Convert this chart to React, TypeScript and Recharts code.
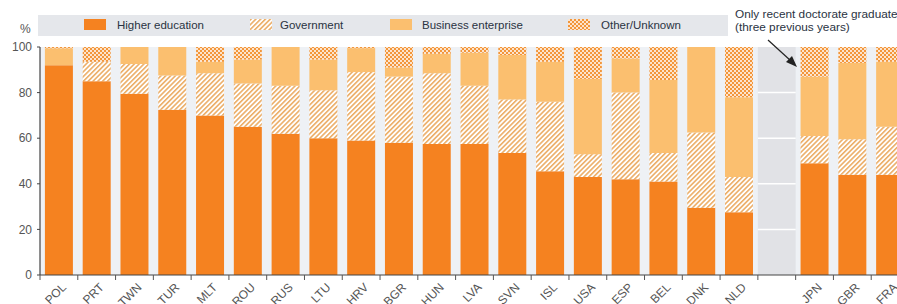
import React from "react";
import { BarChart, Bar, XAxis, YAxis, CartesianGrid, ReferenceArea } from "recharts";

const categories = ["POL","PRT","TWN","TUR","MLT","ROU","RUS","LTU","HRV","BGR","HUN","LVA","SVN","ISL","USA","ESP","BEL","DNK","NLD"," ","JPN","GBR","FRA"];
const higherEducation = [92,85,79.5,72.5,70,65,62,60,59,58,57.5,57.5,53.5,45.5,43,42,41,29.5,27.5,null,49,44,44];
const government = [0,8.5,13,15,18.5,19,21,21,30,29,31,25.5,23.5,30.5,10,38,12.5,33,15.5,null,12,15.5,21];
const businessEnterprise = [7.5,0,7.5,12.5,5,10.5,17,13.5,10.5,4,8.5,14.5,19.5,17.5,33,15,32,37.5,35,null,26,33.5,28.5];
const otherUnknown = [0.5,6.5,0,0,6.5,5.5,0,5.5,0.5,9,3,2.5,3.5,6.5,14,5,14.5,0,22,null,13,7,6.5];
const yTicks = [0,20,40,60,80,100];
const gapCategory = " ";

const legendItems = [
  { label: "Higher education", fill: "#f58220" },
  { label: "Government", fill: "url(#hatchGov)" },
  { label: "Business enterprise", fill: "#fbbf6f" },
  { label: "Other/Unknown", fill: "url(#dotsOther)" },
];

const data = categories.map((c, i) => ({
  name: c,
  he: higherEducation[i],
  gov: government[i],
  bus: businessEnterprise[i],
  oth: otherUnknown[i],
}));

const FONT = "'Liberation Sans', Arial, sans-serif";

const XTick = (props: any) => {
  const { x, y, payload } = props;
  const off = payload && typeof payload.offset === "number" ? payload.offset : 18.9;
  const lx = x - off;
  const tx = x + 8;
  const ty = y + 13;
  return (
    <g>
      <line x1={lx} y1={y} x2={lx} y2={y + 5} stroke="#555" strokeWidth={1} />
      <text x={tx} y={ty} textAnchor="end" transform={`rotate(-45, ${tx}, ${ty})`} fontSize={12} fill="#555" fontFamily={FONT}>
        {payload.value}
      </text>
    </g>
  );
};

const GapShape = (props: any) => {
  const { x, y, width, height } = props;
  return (
    <g>
      <rect x={x} y={y} width={width} height={height} fill="#e1e2e6" />
      {yTicks.filter((v) => v > 0 && v < 100).map((v) => (
        <line key={v} x1={x} x2={x + width} y1={y + height * (1 - v / 100)} y2={y + height * (1 - v / 100)} stroke="#ffffff" strokeWidth={1.5} />
      ))}
    </g>
  );
};

export default function App() {
  return (
    <div style={{ position: "fixed", left: 0, top: 0, width: 897, height: 304, overflow: "hidden", background: "#fff", fontFamily: FONT }}>
      <svg width={0} height={0} style={{ position: "absolute" }}>
        <defs>
          <pattern id="hatchGov" patternUnits="userSpaceOnUse" width={3.4} height={3.4} patternTransform="rotate(45)">
            <rect width={3.4} height={3.4} fill="#ffffff" />
            <line x1={0.8} y1={0} x2={0.8} y2={3.4} stroke="#e9a252" strokeWidth={1.4} />
          </pattern>
          <pattern id="dotsOther" patternUnits="userSpaceOnUse" width={4} height={4}>
            <rect width={4} height={4} fill="#f3963a" />
            <circle cx={1} cy={1} r={1} fill="#ffffff" />
            <circle cx={3} cy={3} r={1} fill="#ffffff" />
          </pattern>
        </defs>
      </svg>
      <div style={{ position: "absolute", left: 38, top: 15, width: 690, height: 21, background: "#e5e7eb" }} />
      {legendItems.map((it, i) => {
        const pos = [[84, 117], [250, 280], [390, 422], [568, 601]][i];
        return (
          <React.Fragment key={it.label}>
            <svg style={{ position: "absolute", left: pos[0], top: 19 }} width={22} height={11}>
              <rect width={22} height={11} fill={it.fill} />
            </svg>
            <div style={{ position: "absolute", left: pos[1], top: 17, fontSize: 11.5, color: "#2a3342", lineHeight: "16px", whiteSpace: "nowrap" }}>{it.label}</div>
          </React.Fragment>
        );
      })}
      <div style={{ position: "absolute", left: 20, top: 22, fontSize: 12, color: "#555", lineHeight: "14px" }}>%</div>
      <div style={{ position: "absolute", left: 735, top: 8, fontSize: 11.8, color: "#2a3342", lineHeight: "13px", whiteSpace: "nowrap" }}>
        Only recent doctorate graduates<br />(three previous years)
      </div>
      <div style={{ position: "absolute", left: 0, top: 0 }}>
        <BarChart width={915} height={304} data={data} margin={{ top: 47, right: 6, bottom: 0, left: 0 }} barCategoryGap="13%">
          <CartesianGrid fill="#eef1f5" horizontal={false} vertical={false} />
          <ReferenceArea x1={gapCategory} x2={gapCategory} y1={0} y2={100} shape={<GapShape />} ifOverflow="visible" />
          <XAxis dataKey="name" interval={0} height={29} tickSize={0} tickMargin={0} tick={<XTick />} axisLine={{ stroke: "#444", strokeWidth: 1.2 }} tickLine={false} />
          <YAxis domain={[0, 100]} ticks={yTicks} width={40} tickSize={3} tickMargin={5} tick={{ fontSize: 12, fill: "#555", fontFamily: FONT }} axisLine={{ stroke: "#444", strokeWidth: 1.2 }} tickLine={{ stroke: "#444" }} />
          <Bar dataKey="he" stackId="a" fill="#f58220" isAnimationActive={false} />
          <Bar dataKey="gov" stackId="a" fill="url(#hatchGov)" isAnimationActive={false} />
          <Bar dataKey="bus" stackId="a" fill="#fbbf6f" isAnimationActive={false} />
          <Bar dataKey="oth" stackId="a" fill="url(#dotsOther)" isAnimationActive={false} />
        </BarChart>
      </div>
      <svg style={{ position: "absolute", left: 0, top: 0 }} width={897} height={304}>
        <line x1={768} y1={40} x2={791} y2={61} stroke="#222" strokeWidth={1.2} />
        <polygon points="797,67 786,62 792,56" fill="#222" />
      </svg>
    </div>
  );
}
